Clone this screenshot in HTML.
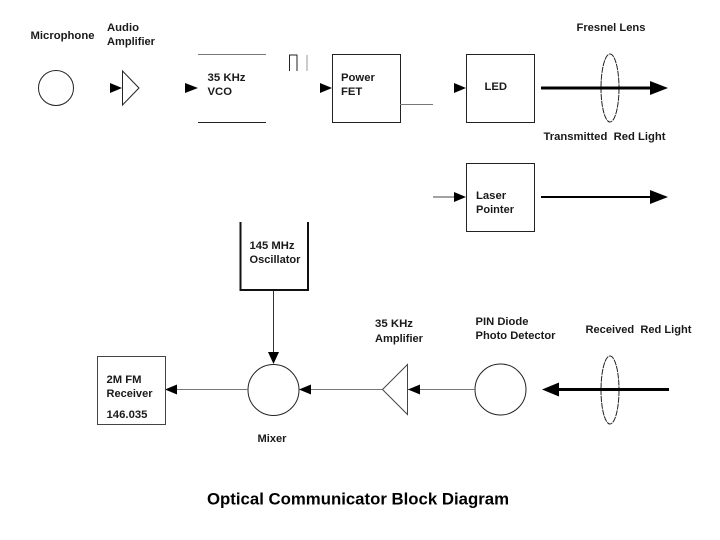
<!DOCTYPE html>
<html>
<head>
<meta charset="utf-8">
<style>
html,body{margin:0;padding:0;background:#fff;width:720px;height:540px;overflow:hidden}
svg{display:block;filter:blur(.3px)}
text{font-family:"Liberation Sans",Arial,sans-serif;font-weight:bold;font-size:11.3px;fill:#1a1a1a;white-space:pre}
</style>
</head>
<body>
<svg width="720" height="540" viewBox="0 0 720 540" xmlns="http://www.w3.org/2000/svg">
<g fill="none" stroke="#222" stroke-width="1">
  <circle cx="56" cy="88" r="17.5"/>
  <polygon points="122.5,71 139,88 122.5,105"/>
  <line x1="198" y1="54.5" x2="266" y2="54.5" stroke="#777"/>
  <line x1="198" y1="122.5" x2="266" y2="122.5"/>
  <path d="M289.5 71V55H297V71"/>
  <line x1="307" y1="55" x2="307" y2="71" stroke="#999"/>
  <rect x="332.5" y="54.5" width="68" height="68"/>
  <line x1="400" y1="104.5" x2="433" y2="104.5" stroke="#777"/>
  <rect x="466.5" y="54.5" width="68" height="68"/>
  <rect x="466.5" y="163.5" width="68" height="68"/>
  <ellipse cx="610" cy="88" rx="9" ry="34" stroke-dasharray="6 0.8"/>
  <ellipse cx="610" cy="390" rx="9" ry="34" stroke-dasharray="6 0.8"/>
  <line x1="433" y1="197" x2="455" y2="197" stroke="#444"/>
  <rect x="97.5" y="356.5" width="68" height="68" stroke="#444"/>
  <circle cx="273.5" cy="390" r="25.5"/>
  <circle cx="500.5" cy="389.5" r="25.5"/>
  <polygon points="382.5,389.5 407.5,364.5 407.5,414.5" stroke="#444"/>
  <line x1="165" y1="389.5" x2="248" y2="389.5" stroke="#777"/>
  <line x1="300" y1="389.5" x2="382" y2="389.5" stroke="#777"/>
  <line x1="408" y1="389.5" x2="475" y2="389.5" stroke="#777"/>
  <line x1="273.5" y1="290" x2="273.5" y2="354" stroke="#333"/>
</g>
<path d="M240.5 222V290H308V222" fill="none" stroke="#111" stroke-width="2"/>
<g stroke="#000" fill="none">
  <line x1="541" y1="88" x2="652" y2="88" stroke-width="3"/>
  <line x1="541" y1="197" x2="652" y2="197" stroke-width="2"/>
  <line x1="557" y1="389.5" x2="669" y2="389.5" stroke-width="3"/>
</g>
<g fill="#000">
  <polygon points="110,83 122,88 110,93"/>
  <polygon points="185,83 198,88 185,93"/>
  <polygon points="320,83 332,88 320,93"/>
  <polygon points="454,83 466,88 454,93"/>
  <polygon points="454,192 466,197 454,202"/>
  <polygon points="650,81 668,88 650,95"/>
  <polygon points="650,190 668,197 650,204"/>
  <polygon points="542,389.5 559,382.5 559,396.5"/>
  <polygon points="268,352 279,352 273.5,364"/>
  <polygon points="165,389.5 177,384.5 177,394.5"/>
  <polygon points="299,389.5 311,384.5 311,394.5"/>
  <polygon points="408,389.5 420,384.5 420,394.5"/>
</g>
<text x="30.5" y="39" textLength="64" lengthAdjust="spacingAndGlyphs">Microphone</text>
<text x="107" y="31">Audio</text>
<text x="107" y="45" textLength="48" lengthAdjust="spacingAndGlyphs">Amplifier</text>
<text x="207.500" y="81" textLength="38" lengthAdjust="spacingAndGlyphs">35 KHz</text>
<text x="207.500" y="95">VCO</text>
<text x="341" y="81">Power</text>
<text x="341" y="95">FET</text>
<text x="484.500" y="90">LED</text>
<text x="576.500" y="31" textLength="69" lengthAdjust="spacingAndGlyphs">Fresnel Lens</text>
<text x="543.500" y="140" textLength="122" lengthAdjust="spacingAndGlyphs">Transmitted  Red Light</text>
<text x="476" y="199">Laser</text>
<text x="476" y="213" textLength="38" lengthAdjust="spacingAndGlyphs">Pointer</text>
<text x="249.500" y="249" textLength="45" lengthAdjust="spacingAndGlyphs">145 MHz</text>
<text x="249.500" y="263" textLength="51" lengthAdjust="spacingAndGlyphs">Oscillator</text>
<text x="375" y="327" textLength="38" lengthAdjust="spacingAndGlyphs">35 KHz</text>
<text x="375" y="342" textLength="48" lengthAdjust="spacingAndGlyphs">Amplifier</text>
<text x="475.500" y="325" textLength="53" lengthAdjust="spacingAndGlyphs">PIN Diode</text>
<text x="475.500" y="339" textLength="80" lengthAdjust="spacingAndGlyphs">Photo Detector</text>
<text x="585.500" y="333" textLength="106" lengthAdjust="spacingAndGlyphs">Received  Red Light</text>
<text x="106.500" y="383" textLength="35" lengthAdjust="spacingAndGlyphs">2M FM</text>
<text x="106.500" y="397" textLength="46" lengthAdjust="spacingAndGlyphs">Receiver</text>
<text x="106.500" y="418" textLength="41" lengthAdjust="spacingAndGlyphs">146.035</text>
<text x="257.500" y="442" textLength="29" lengthAdjust="spacingAndGlyphs">Mixer</text>
<text x="207" y="504.500" textLength="302" lengthAdjust="spacingAndGlyphs" style="font-size:16.5px;fill:#000">Optical Communicator Block Diagram</text>
</svg>
</body>
</html>
